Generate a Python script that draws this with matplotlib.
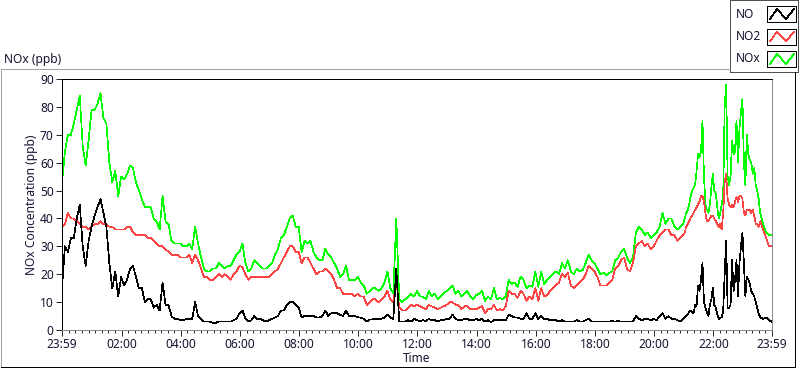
import numpy as np
import matplotlib
matplotlib.use("Agg")
import matplotlib.pyplot as plt
from matplotlib.patches import Rectangle

plt.rcParams['font.family'] = ['Noto Sans', 'DejaVu Sans']

# sample times, hours after 23:59 (6 min steps, 3 min steps through the busy evening)
hours = np.concatenate([np.arange(211) * 0.1,
                        21.0 + np.arange(1, 53) * 0.05,
                        23.6 + np.arange(1, 5) * 0.1])

# NOx (ppb)
nox = [53, 64, 70, 70, 74, 79, 84, 66, 59, 68,
       79, 79, 81, 85, 76, 74, 60, 53, 57, 48,
       55, 54, 56, 59, 58, 53, 50, 47, 44, 44,
       44, 40, 39, 36, 48, 39, 38, 32, 31, 31,
       31, 30, 30, 31, 29, 37, 31, 26, 22, 21,
       21, 22, 22, 24, 23, 22, 23, 23, 25, 27,
       28, 31, 24, 21, 22, 25, 24, 23, 22, 22,
       23, 24, 27, 29, 33, 34, 37, 40, 41, 37,
       37, 28, 32, 31, 32, 28, 26, 25, 25, 29,
       27, 26, 24, 22, 19, 20, 23, 18, 18, 18,
       19, 17, 16, 13, 14, 15, 15, 14, 15, 17,
       21, 15, 13, 40, 11, 10, 11, 12, 13, 12,
       14, 12, 12, 11, 14, 12, 13, 11, 12, 13,
       14, 15, 16, 13, 14, 12, 13, 14, 12, 11,
       12.5, 13, 14, 10.5, 12, 11, 15, 11, 11.5, 11,
       12, 18, 16.5, 17, 15.5, 19, 18, 15, 16, 15.5,
       21, 15.5, 21, 16.5, 18, 19, 20, 21, 20, 24,
       22, 25, 21, 20, 22, 21, 21.5, 24, 27, 25,
       24, 22, 20, 20.5, 19.5, 20.5, 21, 25, 26, 28,
       29, 26, 24, 26, 35, 37, 36, 34, 35, 33,
       34, 35, 37, 42, 38, 40, 40, 37, 36, 37,
       38,
       40, 42, 43, 45, 48, 50, 51, 52, 57, 63,
       62, 64, 75, 55, 45, 43, 42, 45, 51, 56,
       50, 49, 44, 40, 42, 45, 48, 80, 88, 55,
       52, 55, 68, 63, 64, 75, 60, 72, 78, 83,
       60, 52, 70, 63, 61, 60, 56, 58, 52, 50,
       47, 42,
       38, 35, 34, 34]

# NO2 (ppb)
no2 = [37, 38, 42, 40, 40, 39, 38, 37, 37, 36,
       37, 38, 38, 39, 38, 38, 37, 37, 36, 36,
       36, 36, 37, 37, 35, 34, 34, 34, 34, 33,
       33, 32, 31, 30, 30, 29, 28, 27, 27, 27,
       26, 26, 26, 27, 24, 27, 25, 22, 19, 19,
       18, 18, 19, 20, 19, 20, 19, 18, 20, 21,
       23, 22.5, 20, 18, 19, 19, 19, 19, 19, 19,
       19, 20, 21, 22, 24, 26, 28, 30, 30, 28,
       28, 24, 26, 26, 24, 22, 20, 21, 21, 22,
       21, 20, 18, 15, 15, 13, 13, 13, 13, 12,
       13, 12, 12, 9, 10, 11, 11, 10, 11, 12,
       14, 11, 10, 18, 8, 7, 7, 8, 9, 8.5,
       9, 8.5, 8, 7.5, 9, 8.5, 8, 7.5, 8, 8.5,
       9, 10, 10, 9, 9, 7.5, 8.5, 8.5, 7.5, 7.5,
       7.5, 8, 8.5, 6, 7.5, 7.5, 9, 7, 7.5, 7,
       8.5, 14, 13, 13, 11.5, 14, 13, 10.5, 12, 11,
       15, 10.5, 15, 12, 12.5, 14, 15, 16, 17, 20,
       19, 20.5, 16, 15, 16, 17, 18, 20, 23, 22,
       21, 19, 16, 16, 16, 17, 18, 22, 23, 25,
       26, 22, 21, 24, 30, 31, 32, 30, 31, 29,
       30, 32, 34, 35, 36, 36, 34, 34, 32, 33,
       34,
       35, 37, 38, 39, 40.4, 41, 42, 43, 44, 45,
       46, 48, 48, 46, 42, 39, 39, 40, 41, 41,
       40, 39, 38, 37, 38, 36, 42, 53, 56, 47,
       45, 44, 45, 44, 46, 47.6, 46, 48, 48, 47,
       42, 41, 43, 43, 43, 42, 43, 41, 38, 38,
       37, 39,
       36, 33, 30, 30]

# NO (ppb)
no = [15, 30, 28, 33, 33, 40, 45, 30, 23, 32,
      37, 41, 44, 47, 42, 37, 24, 15, 21, 12,
      19, 16, 18, 22, 23, 19, 15, 15, 10, 11,
      11, 8, 9, 7, 17, 9, 9, 5, 4, 4,
      3.5, 3.5, 4, 4, 4, 10, 5, 4, 3, 3,
      3, 2.6, 2.6, 3, 3, 3, 3, 3, 3.5, 4,
      6, 7, 4, 3, 3.5, 5, 4, 4, 3.5, 3,
      3.5, 4, 4.5, 5, 7, 7, 9, 10, 10, 9,
      8, 4.5, 5, 5, 5, 5, 4.5, 4.5, 5, 7,
      5, 6, 6, 6, 5.5, 5, 7, 5, 5, 5,
      4.6, 4.4, 4, 3, 3.8, 3.8, 4, 4, 4, 4.5,
      5.5, 4.5, 4, 22, 3, 3, 3, 3.5, 3, 4,
      3.5, 3.2, 3.5, 3.2, 4, 3.5, 3.5, 3, 3.5, 3.5,
      4, 4, 5.5, 4, 3.5, 3.5, 4, 4, 3.5, 3.5,
      4, 3.5, 4, 3, 3.5, 2.8, 3.5, 3.5, 3.5, 3.5,
      3.5, 5.5, 5, 4.5, 4.5, 4, 4, 6, 4, 4,
      6, 4, 5, 4, 4, 3.5, 3.5, 3.5, 3, 3.5,
      3, 3, 3, 3, 3.5, 3, 3, 3.5, 4, 3,
      3, 3, 3, 3, 3, 3, 3.2, 3, 3.2, 3,
      3, 3, 3, 3, 5, 4, 3.5, 4, 4, 3.5,
      4, 3.5, 5, 6, 4, 5, 4, 4, 3.5, 3,
      4,
      4.5, 5, 5.5, 6.5, 7, 6.5, 6, 9, 8.5, 16,
      14, 18, 24, 10, 8, 6.5, 5, 9, 11, 15,
      9, 8, 5.5, 4, 4.5, 4.5, 7, 20, 32, 8,
      8, 9, 25, 14, 18, 25, 12, 24, 30, 35,
      24, 12, 19, 18, 16.4, 14, 13, 12, 10, 8,
      6, 4.5,
      4, 4.5, 3.5, 3]

tick_hours = [0] + [2 * k + 1 / 60 for k in range(1, 12)] + [24]
tick_labels = ['23:59', '02:00', '04:00', '06:00', '08:00', '10:00', '12:00',
               '14:00', '16:00', '18:00', '20:00', '22:00', '23:59']

W, H = 800, 369
txt = '#141432'
fs = 8.6
lw = 0.5

fig = plt.figure(figsize=(W / 100, H / 100), dpi=100)
fig.patch.set_facecolor('white')

ax = fig.add_axes([62 / W, 1 - 330 / H, 710 / W, 251 / H])
ax.plot(hours, nox, color='#00ff00', lw=lw, antialiased=False)
ax.plot(hours, no2, color='#ff4444', lw=lw, antialiased=False)
ax.plot(hours, no, color='black', lw=lw, antialiased=False)

ax.set_xlim(0, 24)
ax.set_ylim(0, 90)
ax.set_yticks(range(0, 91, 10))
ax.set_xticks(tick_hours)
ax.set_xticklabels(tick_labels)
minor = []
for a, b in zip(tick_hours[:-1], tick_hours[1:]):
    minor.extend(np.linspace(a, b, 10)[1:-1])
ax.set_xticks(minor, minor=True)

ax.tick_params(axis='x', which='major', length=4.5, width=0.6, pad=1.5,
               labelsize=fs, labelcolor=txt)
ax.tick_params(axis='x', which='minor', length=2.5, width=0.6)
ax.tick_params(axis='y', length=4.5, width=0.6, pad=1.5,
               labelsize=fs, labelcolor=txt)
for side in ['left', 'top']:
    ax.spines[side].set_color('black')
for side in ['right', 'bottom']:
    ax.spines[side].set_color('#8c8c8c')
for s in ax.spines.values():
    s.set_linewidth(0.72)

# overlay in pixel coords for frame, labels and legend
ov = fig.add_axes([0, 0, 1, 1], zorder=5)
ov.set_xlim(0, W)
ov.set_ylim(H, 0)
ov.axis('off')
ov.patch.set_alpha(0)

ov.plot([1, 1], [69, 367], color='#a0a0a0', lw=0.72, antialiased=False)
ov.plot([1, 730], [69, 69], color='#a0a0a0', lw=0.72, antialiased=False)
ov.plot([795, 795], [72, 367], color='black', lw=0.72, antialiased=False)
ov.plot([1, 795], [367, 367], color='black', lw=0.72, antialiased=False)

ov.text(4, 59, 'NOx (ppb)', fontsize=fs, color=txt, ha='left', va='center')
ov.text(31.5, 204.5, 'NOx Concentration (ppb)', fontsize=fs, color=txt,
        rotation=90, ha='center', va='center')
ov.text(417, 359, 'Time', fontsize=fs, color=txt, ha='center', va='center')

# legend
ov.add_patch(Rectangle((730, 0), 68, 72, facecolor='white', edgecolor='#505050',
                       lw=0.72, antialiased=False))
leg_names = ['NO', 'NO2', 'NOx']
leg_colors = ['black', '#ff4444', '#00ff00']
for i, (name, col) in enumerate(zip(leg_names, leg_colors)):
    y0 = 6 + i * 22.5
    ov.text(736, y0 + 8, name, fontsize=fs, color=txt, ha='left', va='center')
    ov.add_patch(Rectangle((767, y0), 29, 16, facecolor='white',
                           edgecolor='black', lw=0.72, antialiased=False))
    ov.plot([770, 777, 786, 794], [y0 + 13, y0 + 3, y0 + 13, y0 + 3],
            color=col, lw=lw, antialiased=False)

fig.savefig('out.png', dpi=100)
